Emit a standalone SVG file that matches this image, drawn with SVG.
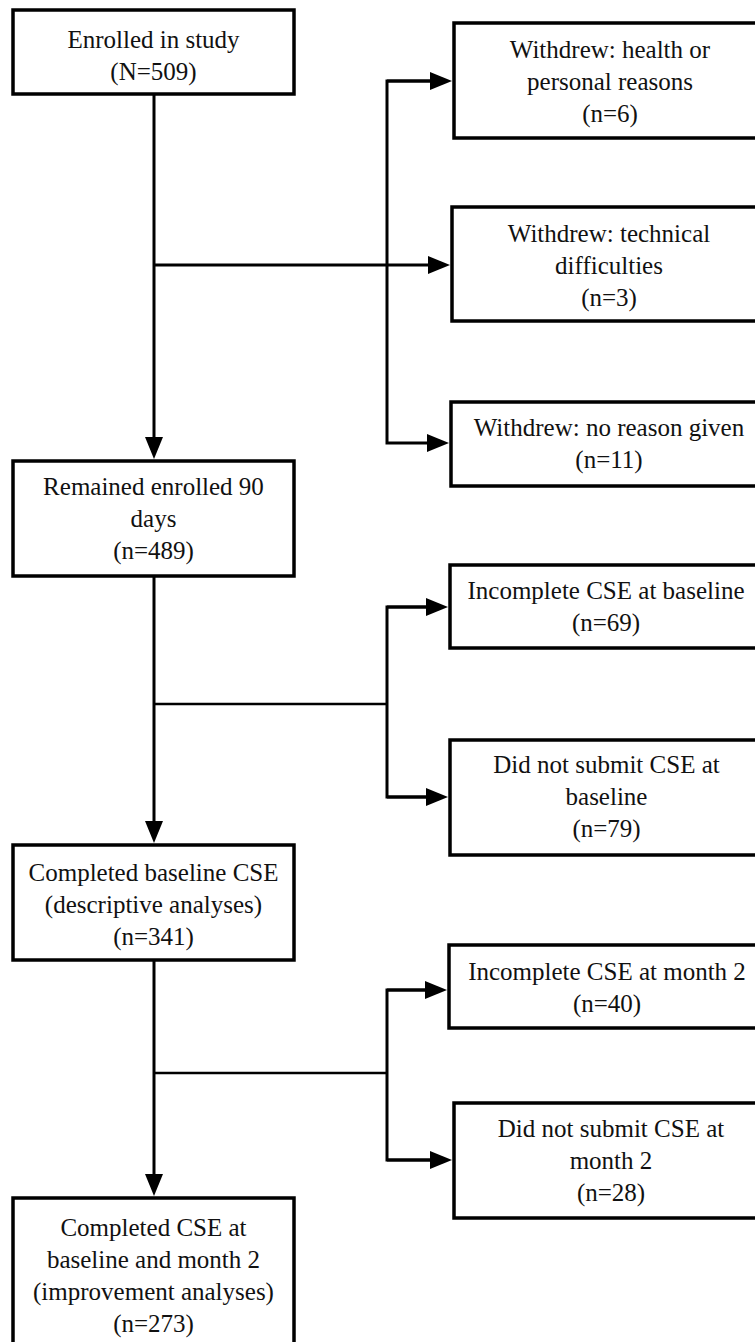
<svg xmlns="http://www.w3.org/2000/svg" width="755" height="1342" viewBox="0 0 755 1342">
<style>
.box{fill:#fff;stroke:#000;stroke-width:3.5}
.t{font-family:'Liberation Serif','Times New Roman',Tinos,'DejaVu Serif',serif;font-size:25px;fill:#111;text-anchor:middle}
.c{fill:none;stroke:#000;stroke-width:3}
.b{fill:none;stroke:#000;stroke-width:2.5}
</style>
<defs>
<marker id="ah" markerUnits="userSpaceOnUse" markerWidth="22" markerHeight="18" refX="12" refY="9" orient="auto" viewBox="0 0 22 18">
<path d="M0,0 L22,9 L0,18 z" fill="#000"/>
</marker>
</defs>
<rect width="755" height="1342" fill="#fff"/>
<g id="connectors">
<line class="c" x1="154" y1="94" x2="154" y2="449" marker-end="url(#ah)"/>
<line class="c" x1="154" y1="265" x2="387" y2="265"/>
<polyline class="c" points="442,81 387,81 387,443 439,443" marker-end="url(#ah)"/>
<line class="c" x1="387" y1="81" x2="442" y2="81" marker-end="url(#ah)"/>
<line class="c" x1="387" y1="265" x2="440" y2="265" marker-end="url(#ah)"/>
<line class="c" x1="154" y1="576" x2="154" y2="833" marker-end="url(#ah)"/>
<line class="b" x1="154" y1="704" x2="387" y2="704"/>
<polyline class="c" points="438,607 387,607 387,797 438,797"/>
<line class="c" x1="387" y1="607" x2="438" y2="607" marker-end="url(#ah)"/>
<line class="c" x1="387" y1="797" x2="438" y2="797" marker-end="url(#ah)"/>
<line class="c" x1="154" y1="960" x2="154" y2="1186" marker-end="url(#ah)"/>
<line class="b" x1="154" y1="1073" x2="387" y2="1073"/>
<polyline class="c" points="437,990 387,990 387,1160 442,1160"/>
<line class="c" x1="387" y1="990" x2="437" y2="990" marker-end="url(#ah)"/>
<line class="c" x1="387" y1="1160" x2="442" y2="1160" marker-end="url(#ah)"/>
</g>
<g id="enrolled">
<rect class="box" x="13" y="10" width="281" height="84"/>
<text class="t" x="153.5" y="48">Enrolled in study</text>
<text class="t" x="153.5" y="80">(N=509)</text>
</g>
<g id="withdrew-health">
<rect class="box" x="454" y="23" width="320" height="115"/>
<text class="t" x="610" y="58">Withdrew: health or</text>
<text class="t" x="610" y="90">personal reasons</text>
<text class="t" x="610" y="122">(n=6)</text>
</g>
<g id="withdrew-technical">
<rect class="box" x="452" y="207" width="320" height="114"/>
<text class="t" x="609" y="242">Withdrew: technical</text>
<text class="t" x="609" y="274">difficulties</text>
<text class="t" x="609" y="306">(n=3)</text>
</g>
<g id="withdrew-noreason">
<rect class="box" x="451" y="402" width="320" height="84"/>
<text class="t" x="609" y="436">Withdrew: no reason given</text>
<text class="t" x="609" y="468">(n=11)</text>
</g>
<g id="remained">
<rect class="box" x="13" y="461" width="281" height="115"/>
<text class="t" x="153.5" y="495">Remained enrolled 90</text>
<text class="t" x="153.5" y="527">days</text>
<text class="t" x="153.5" y="559">(n=489)</text>
</g>
<g id="incomplete-baseline">
<rect class="box" x="450" y="565" width="320" height="83"/>
<text class="t" x="606" y="599">Incomplete CSE at baseline</text>
<text class="t" x="606" y="631">(n=69)</text>
</g>
<g id="notsubmit-baseline">
<rect class="box" x="450" y="740" width="320" height="115"/>
<text class="t" x="606.5" y="773">Did not submit CSE at</text>
<text class="t" x="606.5" y="805">baseline</text>
<text class="t" x="606.5" y="837">(n=79)</text>
</g>
<g id="completed-baseline">
<rect class="box" x="13" y="845" width="281" height="115"/>
<text class="t" x="153.5" y="881">Completed baseline CSE</text>
<text class="t" x="153.5" y="913">(descriptive analyses)</text>
<text class="t" x="153.5" y="945">(n=341)</text>
</g>
<g id="incomplete-month2">
<rect class="box" x="449" y="945" width="320" height="83"/>
<text class="t" x="607" y="980">Incomplete CSE at month 2</text>
<text class="t" x="607" y="1012">(n=40)</text>
</g>
<g id="notsubmit-month2">
<rect class="box" x="454" y="1103" width="320" height="115"/>
<text class="t" x="611" y="1137">Did not submit CSE at</text>
<text class="t" x="611" y="1169">month 2</text>
<text class="t" x="611" y="1201">(n=28)</text>
</g>
<g id="completed-month2">
<rect class="box" x="13" y="1198" width="281" height="160"/>
<text class="t" x="153.5" y="1236">Completed CSE at</text>
<text class="t" x="153.5" y="1268">baseline and month 2</text>
<text class="t" x="153.5" y="1300">(improvement analyses)</text>
<text class="t" x="153.5" y="1332">(n=273)</text>
</g>
</svg>
